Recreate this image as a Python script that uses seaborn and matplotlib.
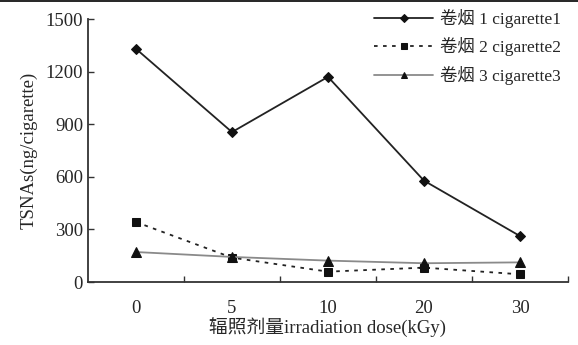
import matplotlib
matplotlib.use("Agg")
import matplotlib.pyplot as plt
import seaborn as sns
import pandas as pd
from matplotlib.lines import Line2D

# data
doses = ["0", "5", "10", "20", "30"]
cig1 = [1330, 855, 1170, 578, 262]
cig2 = [342, 139, 59, 82, 44]
cig3 = [171, 143, 122, 107, 112]
labels = ["卷烟 1 cigarette1", "卷烟 2 cigarette2", "卷烟 3 cigarette3"]

sns.set_style("ticks")
plt.rcParams['font.family'] = ['Liberation Serif', 'Noto Sans CJK SC']
plt.rcParams['axes.unicode_minus'] = False

fig = plt.figure(figsize=(5.78, 3.45), dpi=100)
ax = fig.add_axes([0.1522, 0.1826, 0.8305, 0.7623])

styles = [
    dict(marker="D", linestyle="-", color="#222222", markersize=5.5),
    dict(marker="s", linestyle=(0, (2, 3)), color="#222222", markersize=5.5),
    dict(marker="^", linestyle="-", color="#8a8a8a", markersize=6.5),
]
for vals, lab, st in zip([cig1, cig2, cig3], labels, styles):
    df = pd.DataFrame({"dose": doses, "tsnas": vals})
    sns.lineplot(data=df, x="dose", y="tsnas", ax=ax, label=lab, sort=False,
                 linewidth=1.3, markerfacecolor="#111111", markeredgecolor="#111111",
                 **st)

ax.set_xlim(-0.5, 4.5)
ax.set_ylim(0, 1500)
ax.set_yticks(range(0, 1501, 300))
ax.set_xticks(range(len(doses)))
ax.set_xticklabels(doses)
ax.set_xticks([i + 0.5 for i in range(len(doses))], minor=True)
ax.tick_params(axis="x", which="major", length=0, pad=13, labelsize=13.5)
ax.tick_params(axis="x", which="minor", direction="in", length=4, width=1, color="#333333")
ax.tick_params(axis="y", direction="in", length=4, width=1, labelsize=13.5, color="#333333")

for side in ["top", "right"]:
    ax.spines[side].set_visible(False)
for side in ["left", "bottom"]:
    ax.spines[side].set_linewidth(1.3)
    ax.spines[side].set_color("#333333")

ax.set_xlabel("辐照剂量irradiation dose(kGy)", fontsize=13.5, labelpad=1)
ax.set_ylabel("TSNAs(ng/cigarette)", fontsize=13.5, labelpad=6)

leg = ax.legend(loc="upper right", bbox_to_anchor=(1.0, 1.065), frameon=False,
                fontsize=12.5, handlelength=3.4, handletextpad=0.4,
                labelspacing=0.55, borderaxespad=0, markerscale=0.75)

# thin border line at the top of the image
fig.add_artist(Line2D([0, 1], [0.996, 0.996], color="black", linewidth=1.2,
                      transform=fig.transFigure))

fig.savefig("out.png", dpi=100)
